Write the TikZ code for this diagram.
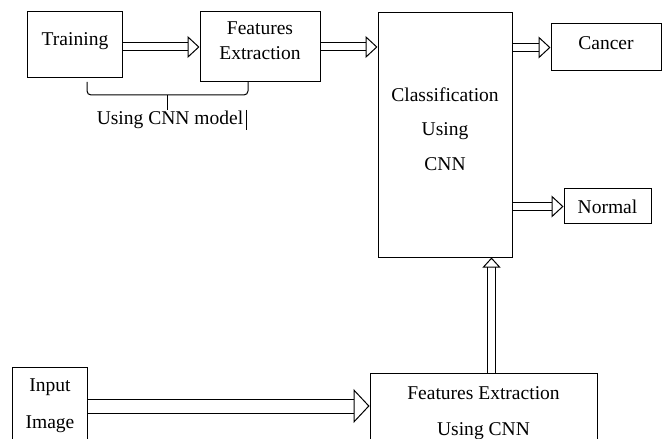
\documentclass[tikz,border=0pt]{standalone}
\usepackage{fontspec}
\setmainfont{Liberation Serif}
\usetikzlibrary{arrows.meta}

\tikzset{
  box/.style={draw, line width=1bp, align=center, inner sep=0pt},
  lines/.style={font=\fontsize{19.6}{#1}\selectfont},
  hollow/.style={draw, line width=1bp, double, double distance=7bp,
    -{Triangle[open, length=12bp, width=22bp]}},
}

\begin{document}
\begin{tikzpicture}[x=1bp, y=-1bp, font=\fontsize{19.6}{24}\selectfont]
  \useasboundingbox (0,0) rectangle (667,439);
  \clip (0,0) rectangle (667,439);
  %top row
  \node[box, text depth=12bp, minimum width=94bp, minimum height=66bp] (train) at (75,45) {Training};
  \node[box, lines=25, text depth=12bp, minimum width=120bp, minimum height=70bp] (fe) at (260,47) {Features\\Extraction};
  \node[box, lines=35, text depth=12bp, minimum width=134bp, minimum height=244bp] (cls) at (445,135) {Classification\\Using\\CNN};
  \node[box, text depth=9bp, minimum width=110bp, minimum height=47bp] (cancer) at (606,47.5) {Cancer};
  \node[box, minimum width=87bp, minimum height=35bp] (normal) at (607.5,206.5) {Normal};
  %bottom row
  \node[box, lines=37, minimum width=74bp, minimum height=78bp] (input) at (50,406) {Input\\Image};
  \node[box, lines=36, minimum width=227bp, minimum height=80bp] (fe2) at (483.5,413) {Features Extraction\\Using CNN};
  %arrows
  \draw[hollow] (train.east |- fe.east) -- (fe.west);
  \draw[hollow] (fe.east) -- (fe.east -| cls.west);
  \draw[hollow] (cls.east |- cancer.west) -- (cancer.west);
  \draw[hollow] (cls.east |- normal.west) -- (normal.west);
  \coordinate (up) at ([xshift=8bp]fe2.north);
  \draw[hollow, -{Triangle[open, length=10bp, width=18bp]}] (up) -- (up |- cls.south);
  \draw[hollow, double distance=13bp, -{Triangle[open, length=16bp, width=34bp]}] (input.east) -- (input.east -| fe2.west);
  %brace under the training part
  \draw[line width=1bp, rounded corners=4bp] (87,82) -- (87,95) -- (248,95) -- (248,82);
  \draw[line width=1bp] (167,95) -- (167,110);
  \node (note) at (170,120) {Using CNN model};
  \draw[line width=0.8bp] (246,110) -- (246,130);
\end{tikzpicture}
\end{document}
